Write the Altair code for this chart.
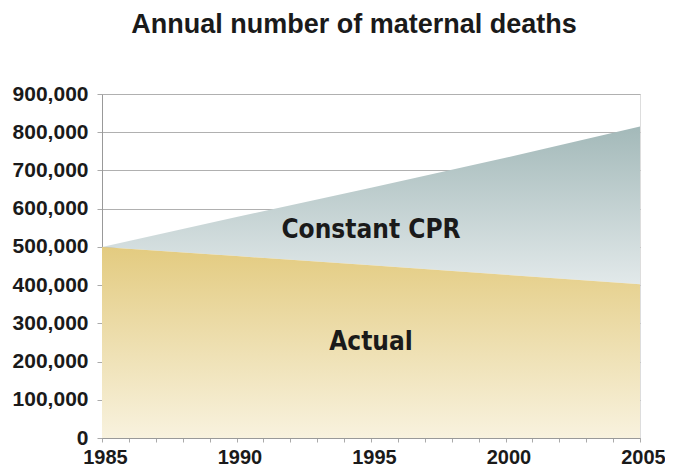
import altair as alt
import pandas as pd

# Data
years = [1985, 1990, 1995, 2000, 2005]
constant_cpr = [500000, 578000, 655000, 733000, 815000]
actual = [500000, 476000, 452000, 427000, 402000]

label_text = ["Constant CPR", "Actual"]
label_year = [1995, 1995]
label_value = [543000, 250000]

x_ticks = list(range(1985, 2006))
y_ticks = list(range(0, 900001, 100000))

df = pd.DataFrame({"year": years, "constant": constant_cpr, "actual": actual})
labels = pd.DataFrame({"text": label_text, "year": label_year, "value": label_value})

AXIS_FONT = "Liberation Sans, Arial, sans-serif"
NARROW_FONT = "Liberation Sans Narrow, DejaVu Sans Condensed, sans-serif"

x_scale = alt.Scale(domain=[1985, 2005], nice=False, zero=False)
y_scale = alt.Scale(domain=[0, 900000], nice=False)

x_axis = alt.Axis(
    values=x_ticks,
    format="d",
    labelExpr="datum.value % 5 == 0 ? datum.label : ''",
    title=None,
    grid=False,
    tickSize=4,
    tickColor="#aaaaaa",
    domainColor="#999999",
    labelFont=AXIS_FONT,
    labelFontSize=20,
    labelFontWeight="bold",
    labelColor="#1a1a1a",
    labelPadding=5,
    labelOffset=3,
    labelOverlap=False,
    labelFlush=False,
    labelBound=False,
)

y_axis = alt.Axis(
    values=y_ticks,
    format=",d",
    title=None,
    grid=True,
    gridColor="#b0b0b0",
    gridWidth=1,
    tickSize=5,
    tickColor="#aaaaaa",
    domainColor="#999999",
    labelFont=AXIS_FONT,
    labelFontSize=21,
    labelFontWeight="bold",
    labelColor="#1a1a1a",
    labelPadding=9,
    labelOverlap=False,
    labelFlush=False,
    labelBound=False,
)

base = alt.Chart(df)

gray_band = base.mark_area(
    color=alt.Gradient(
        gradient="linear",
        stops=[
            alt.GradientStop(color="#a3b9b9", offset=0),
            alt.GradientStop(color="#e2e9ea", offset=1),
        ],
        x1=0, x2=0, y1=0, y2=1,
    )
).encode(
    x=alt.X("year:Q", scale=x_scale, axis=x_axis),
    y=alt.Y("constant:Q", scale=y_scale, axis=y_axis),
    y2="actual:Q",
)

gold_area = base.mark_area(
    color=alt.Gradient(
        gradient="linear",
        stops=[
            alt.GradientStop(color="#e3cb80", offset=0),
            alt.GradientStop(color="#f8f2de", offset=1),
        ],
        x1=0, x2=0, y1=0, y2=1,
    )
).encode(
    x=alt.X("year:Q", scale=x_scale, axis=x_axis),
    y=alt.Y("actual:Q", scale=y_scale, axis=y_axis),
    y2=alt.datum(0),
)

text = alt.Chart(labels).mark_text(
    font=NARROW_FONT,
    fontSize=26,
    fontWeight="bold",
    color="#1a1a1a",
    align="center",
    baseline="middle",
).encode(
    x=alt.X("year:Q", scale=x_scale, axis=x_axis),
    y=alt.Y("value:Q", scale=y_scale, axis=y_axis),
    text="text:N",
)

chart = (
    alt.layer(gray_band, gold_area, text)
    .properties(
        width=538,
        height=344,
        autosize=alt.AutoSizeParams(type="none"),
        padding={"left": 94, "top": 86, "right": 25, "bottom": 30},
        title=alt.TitleParams(
            "Annual number of maternal deaths",
            font=AXIS_FONT,
            fontSize=27,
            fontWeight="bold",
            color="#1a1a1a",
            anchor="middle",
            dx=-17,
            offset=44,
        ),
    )
    .configure_axis(labelOverlap=False)
    .configure_view(stroke="#b0b0b0", strokeWidth=1)
    .configure(background="white")
)

chart.save("out.html", embed_options={"renderer": "svg", "actions": False})
